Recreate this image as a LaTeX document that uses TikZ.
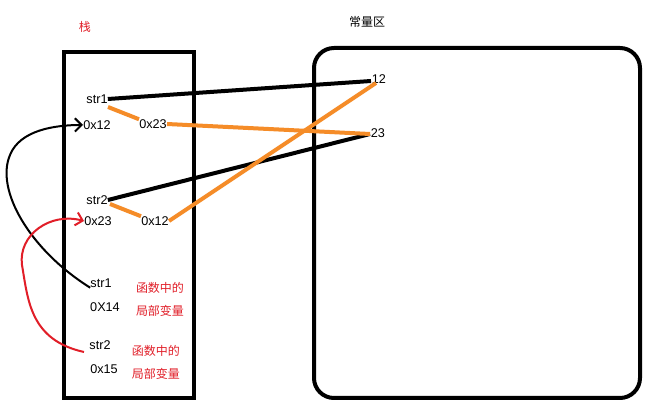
\documentclass[tikz,border=0pt]{standalone}
\usepackage{fontspec}
\setmainfont{Liberation Sans}
\newfontfamily\cjk{Noto Sans CJK SC}
\usetikzlibrary{arrows.meta}
\definecolor{org}{RGB}{245,140,40}
\definecolor{rd}{RGB}{225,30,40}
\begin{document}
\begin{tikzpicture}[x=0.75pt,y=-0.75pt,
  lbl/.style={font=\fontsize{9.5}{11}\selectfont,inner sep=0pt},
  cn/.style={font=\cjk\fontsize{9}{11}\selectfont,text=rd,inner sep=0pt},
  blk/.style={line width=3pt},
  orl/.style={line width=3pt,draw=org},
  hand/.style={line width=1.5pt,-{Straight Barb[length=5pt,width=10pt]}}]
\useasboundingbox (0,0) rectangle (662,413);
\fill[white] (0,0) rectangle (662,413);
\draw[line width=3pt] (64,52) rectangle (194,398);
\draw[line width=3pt,rounded corners=15pt] (314,48) rectangle (640,398);
\node[cn] (zh) at (85,27) {栈};
\node[lbl,font=\cjk\fontsize{9}{11}\selectfont] (cl) at (367,22) {常量区};
\node[lbl] (s1) at (97,99) {str1};
\node[lbl] (a1) at (97,125) {0x12};
\node[lbl] (b1) at (153,124) {0x23};
\node[lbl] (s2) at (97,200) {str2};
\node[lbl] (a2) at (98,221) {0x23};
\node[lbl] (b2) at (155,221) {0x12};
\node[lbl] (s3) at (101,283) {str1};
\node[lbl] (x3) at (105,307) {0X14};
\node[cn] (f1) at (160,288) {函数中的};
\node[cn] (j1) at (160,311) {局部变量};
\node[lbl] (s4) at (100,345) {str2};
\node[lbl] (x4) at (104,369) {0x15};
\node[cn] (f2) at (156,351) {函数中的};
\node[cn] (j2) at (156,374) {局部变量};
\node[lbl] (n12) at (379,79) {12};
\node[lbl] (n23) at (378,133) {23};
\coordinate (p12) at (371,81);
\coordinate (p23) at (370,134);
\draw[blk] (s1.east) -- (p12);
\draw[blk] (s2.east) -- (p23);
\draw[orl] (108,107) -- (b1.north west);
\draw[orl] (b1.east) -- (p23);
\draw[orl] (110,204) -- (b2.north west);
\draw[orl] (b2.east) -- (376,83);
\draw[hand] (s3.south west) .. controls (30,250) and (-5,190) .. (10,155)
  .. controls (20,130) and (55,125) .. (a1.west);
\draw[hand,draw=rd] (84,352) .. controls (30,340) and (28,300) .. (22,265)
  .. controls (18,235) and (50,212) .. (a2.west);
\end{tikzpicture}
\end{document}
